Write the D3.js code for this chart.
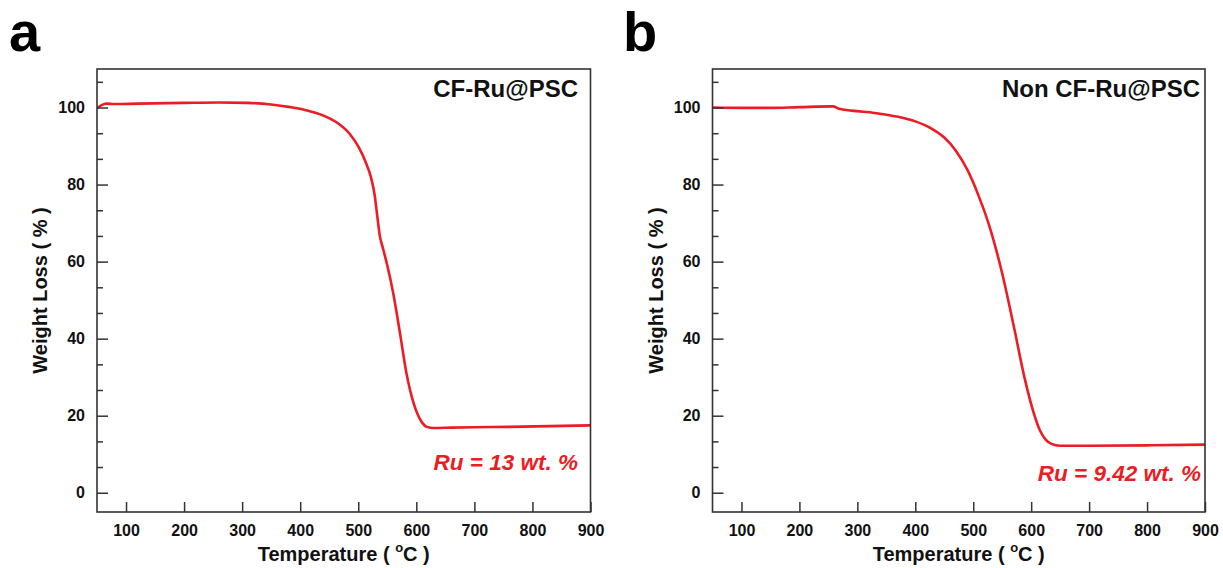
<!DOCTYPE html>
<html>
<head>
<meta charset="utf-8">
<script src="https://cdn.jsdelivr.net/npm/d3@7"></script>
<style>
  html, body { margin: 0; padding: 0; background: #fff; }
  svg { display: block; font-family: Arial, "Liberation Sans", sans-serif; }
</style>
</head>
<body>
<svg id="chart" width="1223" height="568"></svg>
<script>
// ---- Data ----
const tempA   = [50, 58, 66, 80, 120, 200, 260, 310, 350, 383, 410, 440, 465, 485, 500, 512, 522, 528, 533, 537, 543, 550, 560, 572, 583, 595, 603, 610, 618, 630, 660, 700, 760, 830, 900];
const weightA = [99.8, 100.6, 101.0, 100.9, 101.0, 101.2, 101.3, 101.2, 100.8, 100.1, 99.3, 97.9, 95.9, 93.2, 89.9, 86.1, 81.8, 77.5, 71.5, 66.8, 63.2, 59.0, 52.0, 41.3, 31.0, 23.4, 20.1, 18.2, 17.1, 16.8, 16.9, 17.0, 17.1, 17.3, 17.5];

const tempB   = [50, 100, 150, 200, 258, 268, 290, 330, 370, 400, 425, 450, 470, 490, 510, 530, 550, 570, 590, 605, 615, 625, 635, 650, 700, 800, 900];
const weightB = [100.0, 99.9, 99.9, 100.1, 100.3, 99.7, 99.2, 98.6, 97.6, 96.4, 94.8, 92.2, 88.8, 83.8, 76.8, 68.2, 56.9, 43.2, 28.9, 20.4, 16.2, 13.8, 12.7, 12.2, 12.2, 12.3, 12.5];

const xTicks = [100, 200, 300, 400, 500, 600, 700, 800, 900];
const yTicks = [0, 20, 40, 60, 80, 100];
const yMinorTicks = [6.67, 13.33, 26.67, 33.33, 46.67, 53.33, 66.67, 73.33, 86.67, 93.33, 106.67];

const panelLetters = ["a", "b"];
const sampleNames  = ["CF-Ru@PSC", "Non CF-Ru@PSC"];
const ruLabels     = ["Ru = 13 wt. %", "Ru = 9.42 wt. %"];

const xTitle = "Temperature ( ";
const yTitle = "Weight Loss ( % )";

// ---- Drawing ----
const svg = d3.select("#chart");
const RED = "#ec1c24";
const FRAME = "#333";

const panels = [
  { left: 97,    right: 590.5, temps: tempA, weights: weightA, ruY: 470, ruEnd: 578,  nameEnd: 578,  letterX: 9 },
  { left: 712.5, right: 1205,  temps: tempB, weights: weightB, ruY: 481, ruEnd: 1201, nameEnd: 1200, letterX: 623 }
];
const plotTop = 69, plotBottom = 512;

panels.forEach((p, i) => {
  const g = svg.append("g");
  const x = d3.scaleLinear().domain([50, 900]).range([p.left, p.right]);
  const y = d3.scaleLinear().domain([-5, 110]).range([plotBottom, plotTop]);

  g.append("text")
    .attr("x", p.letterX).attr("y", 51)
    .attr("font-size", 56).attr("font-weight", "bold")
    .attr("fill", "#000")
    .text(panelLetters[i]);

  const clipId = "clip" + i;
  svg.append("clipPath").attr("id", clipId)
    .append("rect").attr("x", p.left).attr("y", plotTop)
    .attr("width", p.right - p.left).attr("height", plotBottom - plotTop);

  const line = d3.line()
    .x((d, k) => x(p.temps[k]))
    .y(d => y(d))
    .curve(d3.curveMonotoneX);
  g.append("path")
    .datum(p.weights)
    .attr("clip-path", `url(#${clipId})`)
    .attr("d", line)
    .attr("fill", "none")
    .attr("stroke", RED)
    .attr("stroke-width", 2.6)
    .attr("stroke-linejoin", "round");

  const xAxis = d3.axisBottom(x).tickValues(xTicks).tickSize(-10).tickPadding(13).tickFormat(d3.format("d"));
  const gx = g.append("g").attr("transform", `translate(0,${plotBottom})`).call(xAxis);
  gx.select(".domain").remove();
  gx.selectAll(".tick line").attr("stroke", FRAME).attr("stroke-width", 1.5);
  gx.selectAll(".tick text").attr("font-size", 16).attr("font-weight", "bold").attr("fill", "#111")
    .attr("font-family", "Arial, 'Liberation Sans', sans-serif");

  const yAxis = d3.axisLeft(y).tickValues(yTicks).tickSize(-11).tickPadding(12).tickFormat(d3.format("d"));
  const gy = g.append("g").attr("transform", `translate(${p.left},0)`).call(yAxis);
  gy.select(".domain").remove();
  gy.selectAll(".tick line").attr("stroke", FRAME).attr("stroke-width", 1.5);
  gy.selectAll(".tick text").attr("font-size", 16).attr("font-weight", "bold").attr("fill", "#111")
    .attr("font-family", "Arial, 'Liberation Sans', sans-serif");

  const yMinor = d3.axisLeft(y).tickValues(yMinorTicks).tickSize(-6).tickFormat("");
  const gym = g.append("g").attr("transform", `translate(${p.left},0)`).call(yMinor);
  gym.select(".domain").remove();
  gym.selectAll(".tick line").attr("stroke", FRAME).attr("stroke-width", 1.5);

  g.append("rect")
    .attr("x", p.left).attr("y", plotTop)
    .attr("width", p.right - p.left).attr("height", plotBottom - plotTop)
    .attr("fill", "none").attr("stroke", FRAME).attr("stroke-width", 1.6);

  g.append("text")
    .attr("x", p.nameEnd).attr("y", 97)
    .attr("text-anchor", "end")
    .attr("font-size", 24).attr("font-weight", "bold").attr("fill", "#111")
    .text(sampleNames[i]);

  g.append("text")
    .attr("x", p.ruEnd).attr("y", p.ruY)
    .attr("text-anchor", "end")
    .attr("font-size", 22.5).attr("font-weight", "bold").attr("font-style", "italic")
    .attr("fill", RED)
    .text(ruLabels[i]);

  const xt = g.append("text")
    .attr("x", (p.left + p.right) / 2).attr("y", 561)
    .attr("text-anchor", "middle")
    .attr("font-size", 20).attr("font-weight", "bold").attr("fill", "#111");
  xt.append("tspan").text(xTitle);
  xt.append("tspan").attr("font-size", 13).attr("dy", -9).text("o");
  xt.append("tspan").attr("dy", 9).text("C )");

  g.append("text")
    .attr("transform", `translate(${p.left - 50},${(plotTop + plotBottom) / 2}) rotate(-90)`)
    .attr("text-anchor", "middle")
    .attr("font-size", 20).attr("font-weight", "bold").attr("fill", "#111")
    .text(yTitle);
});
</script>
</body>
</html>
